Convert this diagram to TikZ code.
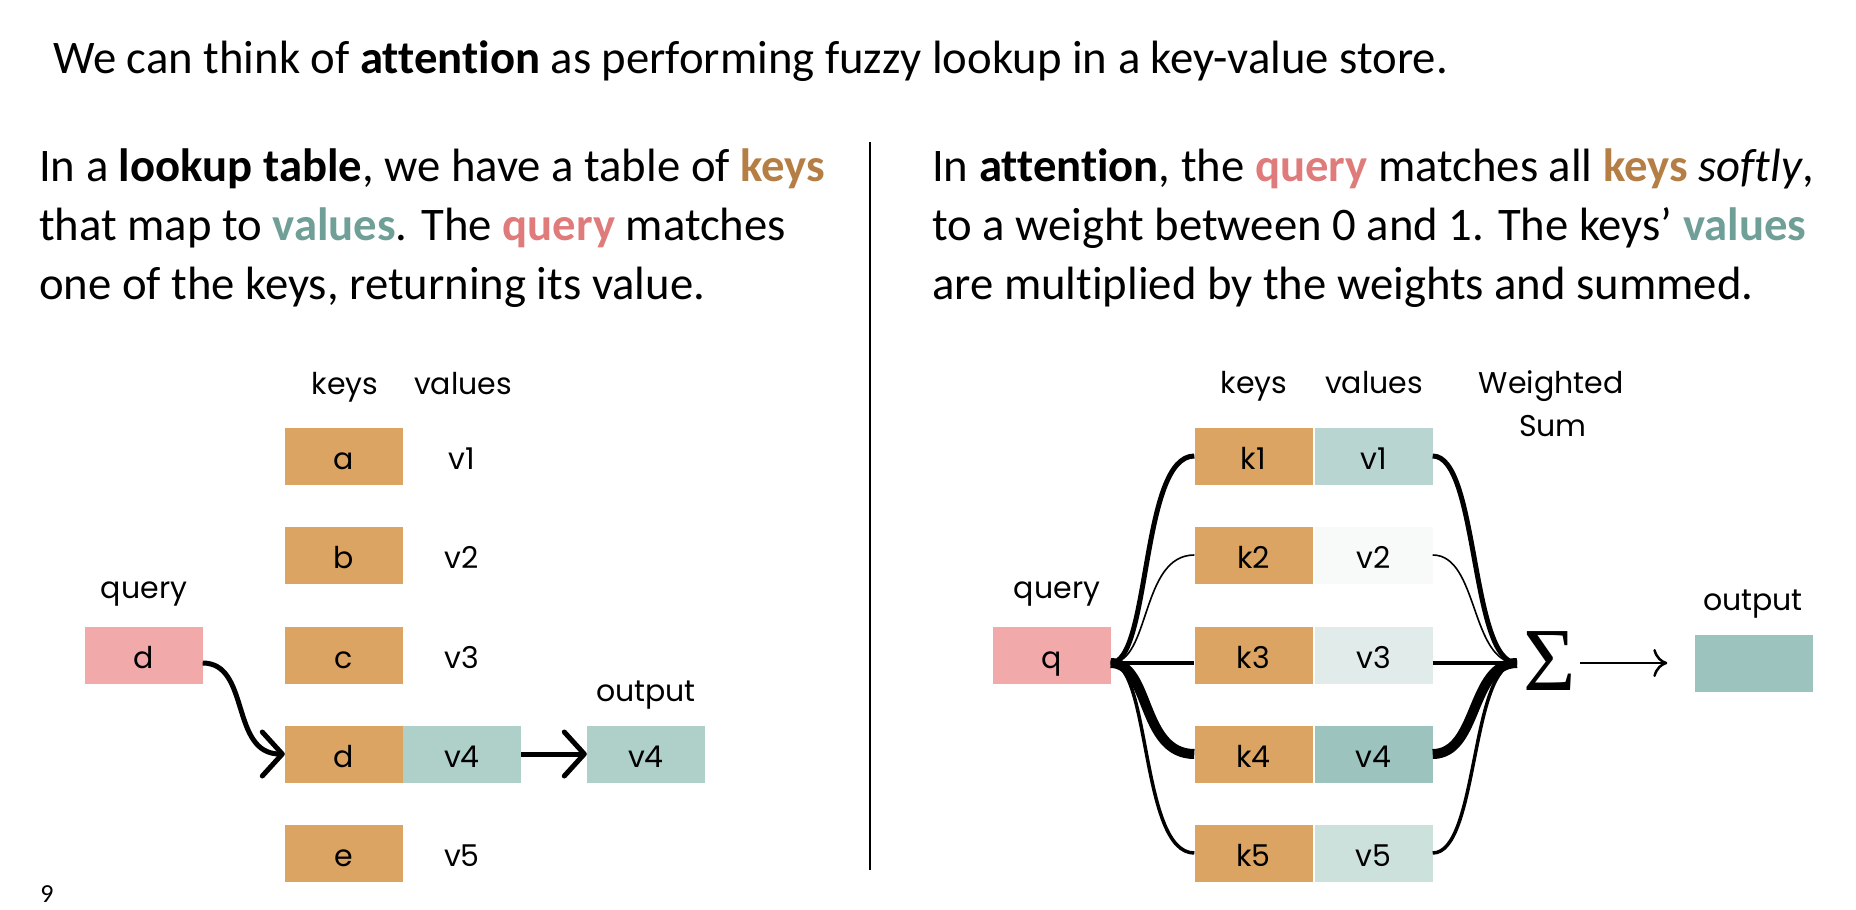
\documentclass[tikz,border=0pt]{standalone}
\usepackage{fontspec}
\setmainfont[Ligatures=NoCommon]{Carlito}
\newfontfamily\labfont{Poppins}
\newfontfamily\sigfont{Liberation Serif}
\usetikzlibrary{arrows.meta}
\definecolor{keyfill}{HTML}{DBA463}
\definecolor{qfill}{HTML}{F2A9AA}
\definecolor{vfillL}{HTML}{AFCFC9}
\definecolor{vA}{HTML}{B9D5D1}
\definecolor{vB}{HTML}{F8FAF9}
\definecolor{vC}{HTML}{E1ECEA}
\definecolor{vD}{HTML}{9CC3BD}
\definecolor{vE}{HTML}{CCE0DC}
\definecolor{keytxt}{HTML}{B57E45}
\definecolor{valtxt}{HTML}{6F9F97}
\definecolor{qtxt}{HTML}{E07B7B}
\begin{document}
\begin{tikzpicture}[x=1pt,y=-1pt,
  body/.style={anchor=base west, inner sep=0, font=\fontsize{46.7}{54}\selectfont},
  lab/.style={anchor=base, inner sep=0, font=\labfont\fontsize{30}{36}\selectfont},
  cell/.style={minimum width=118pt, minimum height=57pt, inner sep=0, text height=26pt, text depth=0pt, font=\labfont\fontsize{30}{36}\selectfont},
  keybox/.style={cell, fill=keyfill},
  qbox/.style={cell, fill=qfill},
  valbox/.style={cell, fill=#1},
  thickarrow/.style={line width=5pt, -{Straight Barb[length=20pt,width=44pt,round]}},
  fan/.style={line width=#1}
]
\useasboundingbox (0,0) rectangle (1856,910);

% texts
\node[body] (title) at (53,73) {We can think of \textbf{attention} as performing fuzzy lookup in a key-value store.};
\node[body] (l1) at (39,181) {In a \textbf{lookup table}, we have a table of \textbf{\color{keytxt}keys}};
\node[body] (l2) at (39,240) {that map to \textbf{\color{valtxt}values}. The \textbf{\color{qtxt}query} matches};
\node[body] (l3) at (39,299) {one of the keys, returning its value.};
\node[body] (r1) at (932,181) {In \textbf{attention}, the \textbf{\color{qtxt}query} matches all \textbf{\color{keytxt}keys} \textit{softly},};
\node[body] (r2) at (932,240) {to a weight between 0 and 1. The keys’ \textbf{\color{valtxt}values}};
\node[body] (r3) at (932,299) {are multiplied by the weights and summed.};
\node[anchor=base, inner sep=0, font=\fontsize{26}{30}\selectfont] (pg) at (47,902) {9};

% divider
\coordinate (dtop) at (870,142);
\coordinate (dbot) at (870,870);
\draw[line width=2.5pt] (dtop) -- (dbot);

% ---------- left diagram ----------
\node[lab] (lkeys) at (345,394) {keys};
\node[lab] (lvals) at (463,394) {values};
\node[keybox] (ka) at (344,456) {a};
\node[keybox] (kb) at (344,555) {b};
\node[keybox] (kc) at (344,655) {c};
\node[keybox] (kd) at (344,754) {d};
\node[keybox] (ke) at (344,853) {e};
\node[cell] (lv1) at (462,456) {v1};
\node[cell] (lv2) at (462,555) {v2};
\node[cell] (lv3) at (462,655) {v3};
\node[valbox=vfillL] (lv4) at (462,754) {v4};
\node[cell] (lv5) at (462,853) {v5};
\node[lab] (lqlab) at (144,598) {query};
\node[qbox] (lq) at (143.5,655) {d};
\node[lab] (lolab) at (646,701) {output};
\node[valbox=vfillL] (lo) at (646,754) {v4};
\draw[thickarrow] ([yshift=-8pt]lq.east) .. controls +(48,0) and +(-55,0) .. (kd.west);
\draw[thickarrow] (lv4.east) -- (lo.west);

% ---------- right diagram ----------
\node[lab] (rkeys) at (1254,393) {keys};
\node[lab] (rvals) at (1374,393) {values};
\node[lab] (wlab) at (1551,393) {Weighted};
\node[lab] (slab) at (1553,436) {Sum};
\node[keybox] (k1) at (1253.5,456) {k1};
\node[keybox] (k2) at (1253.5,555) {k2};
\node[keybox] (k3) at (1253.5,655) {k3};
\node[keybox] (k4) at (1253.5,754) {k4};
\node[keybox] (k5) at (1253.5,853) {k5};
\node[valbox=vA] (v1) at (1373.5,456) {v1};
\node[valbox=vB] (v2) at (1373.5,555) {v2};
\node[valbox=vC] (v3) at (1373.5,655) {v3};
\node[valbox=vD] (v4) at (1373.5,754) {v4};
\node[valbox=vE] (v5) at (1373.5,853) {v5};
\node[lab] (rqlab) at (1057,598) {query};
\node[qbox] (q) at (1051.5,655) {q};
\coordinate (jl) at ([yshift=-8pt]q.east);
\coordinate (jr) at (1517,663);
\node[inner sep=0, font=\sigfont\fontsize{90}{90}\selectfont] (sig) at (1550,661) {Σ};
\node[lab] (rolab) at (1753,610) {output};
\node[valbox=vD] (ro) at (1753.5,663) {};

\draw[fan=5pt] (jl) .. controls +(40,0) and +(-54,0) .. (k1.west);
\draw[fan=1.6pt] (jl) .. controls +(40,0) and +(-54,0) .. (k2.west);
\draw[fan=3.5pt] (jl) -- (jl -| k3.west);
\draw[fan=10pt] (jl) .. controls +(40,0) and +(-54,0) .. (k4.west);
\draw[fan=3.5pt] (jl) .. controls +(40,0) and +(-54,0) .. (k5.west);

\draw[fan=5pt] (v1.east) .. controls +(46,0) and +(-47,0) .. (jr);
\draw[fan=1.6pt] (v2.east) .. controls +(46,0) and +(-47,0) .. (jr);
\draw[fan=3.5pt] (jr -| v3.east) -- (jr);
\draw[fan=10pt] (v4.east) .. controls +(46,0) and +(-47,0) .. (jr);
\draw[fan=3.5pt] (v5.east) .. controls +(46,0) and +(-47,0) .. (jr);

\draw[line width=2.5pt, -{Computer Modern Rightarrow[length=14pt,width=28pt]}, shorten <=4pt, shorten >=27pt] (sig.east |- jr) -- (ro.west |- jr);
\end{tikzpicture}
\end{document}
